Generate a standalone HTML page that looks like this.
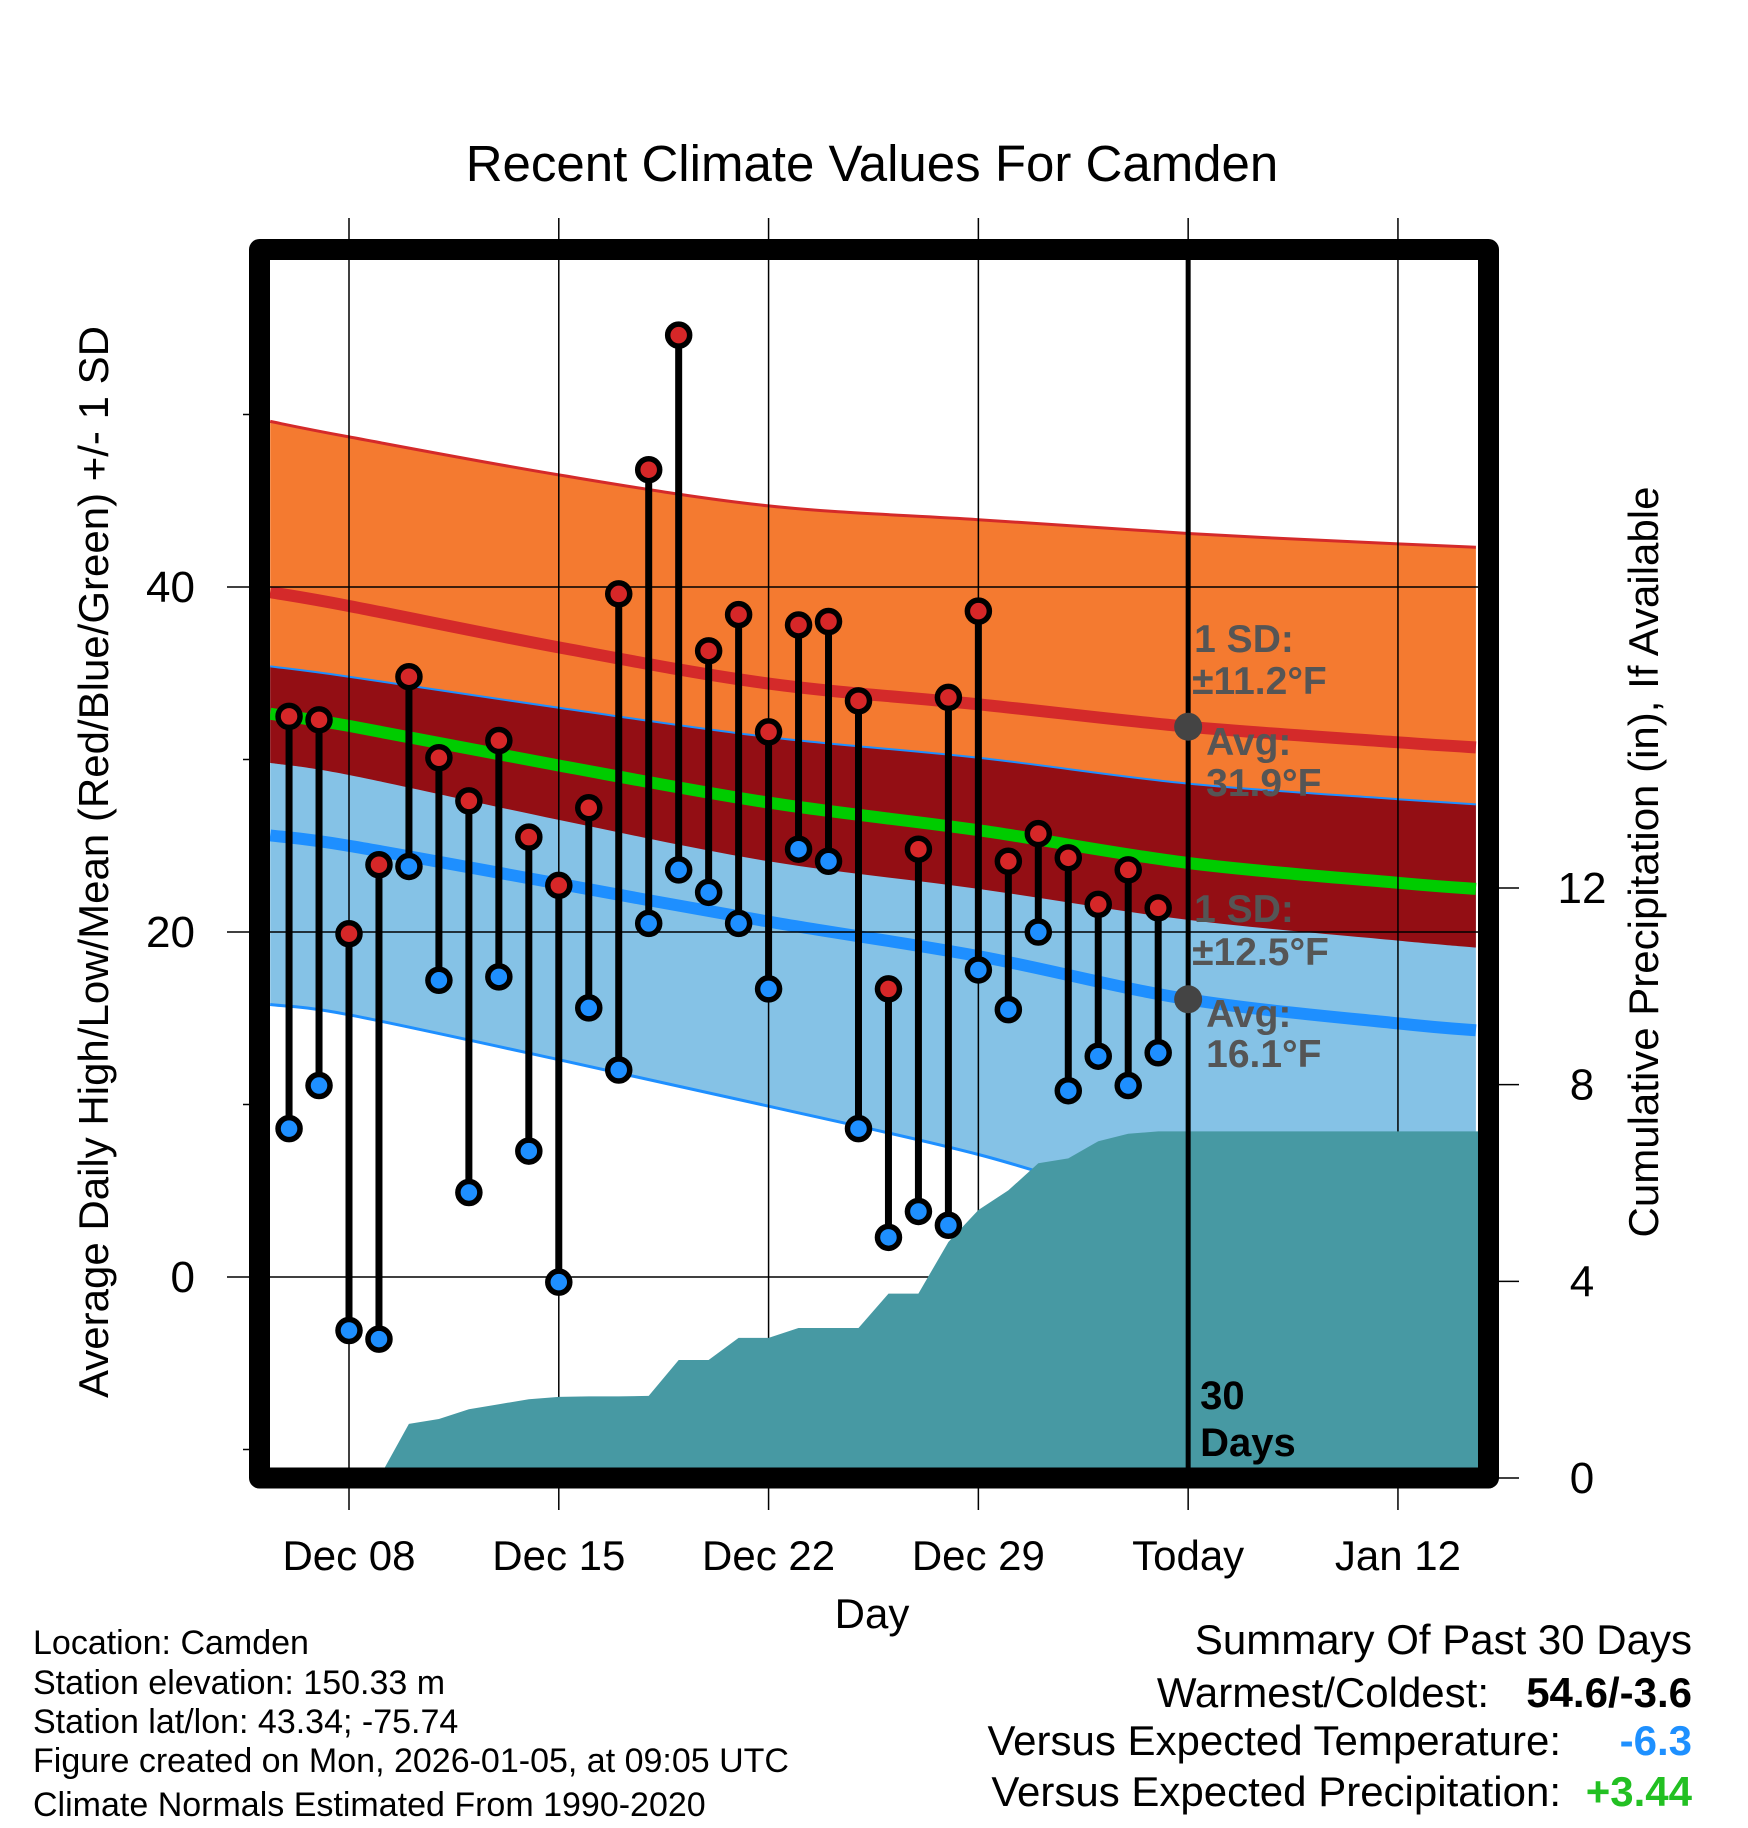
<!DOCTYPE html>
<html><head><meta charset="utf-8"><style>
html,body{margin:0;padding:0;background:#fff}
svg{display:block}
text{font-family:"Liberation Sans",Arial,sans-serif}
</style></head><body>
<svg id="chart" xmlns="http://www.w3.org/2000/svg" width="1748" height="1828" viewBox="0 0 1748 1828">
<defs><clipPath id="plotclip"><rect x="270" y="260" width="1208" height="1208"/></clipPath></defs>
<g id="bands" clip-path="url(#plotclip)"></g>
<g id="grid"></g>
<g id="precip" clip-path="url(#plotclip)"></g>
<g id="marks"></g>
<g id="annot"></g>
<rect x="259.5" y="249.5" width="1229" height="1228.5" fill="none" stroke="#000" stroke-width="21" stroke-linejoin="round"/>
<text x="872" y="181" font-size="51" text-anchor="middle">Recent Climate Values For Camden</text>
<text x="872" y="1628" font-size="42" text-anchor="middle">Day</text>
<text transform="translate(108,862) rotate(-90)" font-size="42" text-anchor="middle">Average Daily High/Low/Mean (Red/Blue/Green) +/- 1 SD</text>
<text transform="translate(1658,862) rotate(-90)" font-size="42" text-anchor="middle">Cumulative Precipitation (in), If Available</text>
<g font-size="34">
<text x="33" y="1654">Location: Camden</text>
<text x="33" y="1694">Station elevation: 150.33 m</text>
<text x="33" y="1733">Station lat/lon: 43.34; -75.74</text>
<text x="33" y="1772">Figure created on Mon, 2026-01-05, at 09:05 UTC</text>
<text x="33" y="1816">Climate Normals Estimated From 1990-2020</text>
</g>
<g font-size="42">
<text x="1692" y="1654" text-anchor="end">Summary Of Past 30 Days</text>
<text x="1489" y="1707" text-anchor="end">Warmest/Coldest:</text>
<text x="1692" y="1707" text-anchor="end" font-weight="bold">54.6/-3.6</text>
<text x="1561" y="1755" text-anchor="end">Versus Expected Temperature:</text>
<text x="1692" y="1755" text-anchor="end" font-weight="bold" fill="#1e90ff">-6.3</text>
<text x="1561" y="1806" text-anchor="end">Versus Expected Precipitation:</text>
<text x="1692" y="1806" text-anchor="end" font-weight="bold" fill="#22c022">+3.44</text>
</g>
</svg>
<script>
// ---- data ----
const dayOffsets = [-2,-1,0,1,2,3,4,5,6,7,8,9,10,11,12,13,14,15,16,17,18,19,20,21,22,23,24,25,26,27]; // days from Dec 08
const highs = [32.5,32.3,19.9,23.9,34.8,30.1,27.6,31.1,25.5,22.7,27.2,39.6,46.8,54.6,36.3,38.4,31.6,37.8,38.0,33.4,16.7,24.8,33.6,38.6,24.1,25.7,24.3,21.6,23.6,21.4];
const lows = [8.6,11.1,-3.1,-3.6,23.8,17.2,4.9,17.4,7.3,-0.3,15.6,12.0,20.5,23.6,22.3,20.5,16.7,24.8,24.1,8.6,2.3,3.8,3.0,17.8,15.5,20.0,10.8,12.8,11.1,13.0];
const precipCum = [0,0,0,0,1.1,1.2,1.4,1.5,1.6,1.65,1.66,1.66,1.67,2.4,2.4,2.85,2.85,3.05,3.05,3.05,3.75,3.75,4.8,5.45,5.85,6.4,6.5,6.85,7.0,7.05];
const normalDays = [-2.63,0,7,14,21,28,35,37.6];
const highAvg = [39.7,38.9,36.5,34.4,33.2,31.9,31.0,30.7];
const highSD = [9.9,9.8,10.0,10.3,10.7,11.2,11.5,11.6];
const lowAvg = [25.6,25.0,22.8,20.6,18.6,16.1,14.7,14.3];
const lowSD = [9.8,9.8,10.2,10.7,11.5,12.5,13.0,13.1];
const xTickDays = [0,7,14,21,28,35];
const xTickLabels = ["Dec 08","Dec 15","Dec 22","Dec 29","Today","Jan 12"];
const yTicks = [0,20,40];
const yMinorTicks = [-10,10,30,50];
const precipTicks = [0,4,8,12];
const todayDay = 28;

// ---- scales ----
const X = d => 349 + d*29.97;
const Y = v => 1277 - v*17.25;
const P = v => 1478 - v*49.17;
const NS = "http://www.w3.org/2000/svg";
function mk(tag, parent, attrs){const e=document.createElementNS(NS,tag);for(const k in attrs)e.setAttribute(k,attrs[k]);parent.appendChild(e);return e;}
const bands=document.getElementById('bands'), grid=document.getElementById('grid'), precip=document.getElementById('precip'), marks=document.getElementById('marks'), annot=document.getElementById('annot');

// smooth curve through knots (Catmull-Rom)
function series(fn){return normalDays.map((d,i)=>[X(d),Y(fn(i))]);}
function smooth(p){
  let s="";
  for(let i=0;i<p.length-1;i++){
    const p0=p[Math.max(0,i-1)],p1=p[i],p2=p[i+1],p3=p[Math.min(p.length-1,i+2)];
    const c1=[p1[0]+(p2[0]-p0[0])/6,p1[1]+(p2[1]-p0[1])/6];
    const c2=[p2[0]-(p3[0]-p1[0])/6,p2[1]-(p3[1]-p1[1])/6];
    s+="C"+c1[0].toFixed(1)+","+c1[1].toFixed(1)+" "+c2[0].toFixed(1)+","+c2[1].toFixed(1)+" "+p2[0].toFixed(1)+","+p2[1].toFixed(1);
  }
  return s;
}
function bandPath(top,bot){const t=series(top),b=series(bot).reverse();return "M"+t[0][0]+","+t[0][1]+smooth(t)+"L"+b[0][0]+","+b[0][1]+smooth(b)+"Z";}
function linePath(fn){const t=series(fn);return "M"+t[0][0]+","+t[0][1]+smooth(t);}

let e;
e=mk('path',bands,{d:bandPath(i=>highAvg[i]+highSD[i],i=>highAvg[i]-highSD[i]),fill:'#f47a30'});


e=mk('path',bands,{d:bandPath(i=>lowAvg[i]+lowSD[i],i=>lowAvg[i]-lowSD[i]),fill:'#85c2e6'});


e=mk('path',bands,{d:bandPath(i=>lowAvg[i]+lowSD[i],i=>highAvg[i]-highSD[i]),fill:'#930e14'});


e=mk('path',bands,{d:linePath(i=>highAvg[i]+highSD[i]),stroke:'#d42a2a','stroke-width':3,fill:'none'});


e=mk('path',bands,{d:linePath(i=>lowAvg[i]+lowSD[i]),stroke:'#1e8fff','stroke-width':2,fill:'none'});


e=mk('path',bands,{d:linePath(i=>lowAvg[i]-lowSD[i]),stroke:'#1e8fff','stroke-width':3,fill:'none'});


e=mk('path',bands,{d:linePath(i=>highAvg[i]),stroke:'#d42a2a','stroke-width':12,fill:'none'});


e=mk('path',bands,{d:linePath(i=>lowAvg[i]),stroke:'#1e8fff','stroke-width':12,fill:'none'});


e=mk('path',bands,{d:linePath(i=>(highAvg[i]+lowAvg[i])/2),stroke:'#00cc00','stroke-width':12,fill:'none'});



// grid + ticks
xTickDays.forEach((d,i)=>{
  e=mk('line',grid,{x1:X(d),x2:X(d),y1:218,y2:1510,stroke:'#000','stroke-width':1.5});
  
  
  e=mk('text',grid,{x:X(d),y:1570,'font-size':42,'text-anchor':'middle'});
  e.textContent=xTickLabels[i];
  
  
});
yTicks.forEach(v=>{
  e=mk('line',grid,{x1:227,x2:1478,y1:Y(v),y2:Y(v),stroke:'#000','stroke-width':1.5});
  
  
  e=mk('text',grid,{x:195,y:Y(v)+15,'font-size':44,'text-anchor':'end'});
  e.textContent=String(v);
  
  
});
yMinorTicks.forEach(v=>{
  e=mk('line',grid,{x1:243,x2:260,y1:Y(v),y2:Y(v),stroke:'#000','stroke-width':1.5});
  
  
});
precipTicks.forEach(v=>{
  e=mk('line',grid,{x1:1488,x2:1519,y1:P(v),y2:P(v),stroke:'#000','stroke-width':1.5});
  
  
  e=mk('text',grid,{x:1582,y:P(v)+15,'font-size':44,'text-anchor':'middle'});
  e.textContent=String(v);
  
  
});

// precipitation area
let pts=dayOffsets.map((d,i)=>[X(d),P(precipCum[i])]);
pts.push([1490,P(precipCum[precipCum.length-1])]);
let pd="M"+X(dayOffsets[0])+","+P(0)+"L"+pts.map(p=>p[0].toFixed(1)+","+p[1].toFixed(1)).join("L")+"L1490,"+P(0)+"Z";
e=mk('path',precip,{d:pd,fill:'#4799a3'});



// today line
e=mk('line',marks,{x1:X(todayDay),x2:X(todayDay),y1:260,y2:1468,stroke:'#000','stroke-width':5});



// stems and markers
dayOffsets.forEach((d,i)=>{
  e=mk('line',marks,{x1:X(d),x2:X(d),y1:Y(highs[i]),y2:Y(lows[i]),stroke:'#000','stroke-width':7});
  
  
});
dayOffsets.forEach((d,i)=>{
  e=mk('circle',marks,{cx:X(d),cy:Y(highs[i]),r:11,fill:'#d62728',stroke:'#000','stroke-width':5.5});
  
  
  e=mk('circle',marks,{cx:X(d),cy:Y(lows[i]),r:11,fill:'#1e8fff',stroke:'#000','stroke-width':5.5});
  
  
});

// annotations
const tX=X(todayDay);
[[31.9],[16.1]].forEach(a=>{
  e=mk('circle',annot,{cx:tX,cy:Y(a[0]),r:14,fill:'#444'});
  
  
});
const labels=[["1 SD:",tX+6,652],["±11.2°F",tX+4,694],["Avg:",tX+18,755],["31.9°F",tX+18,796],["1 SD:",tX+6,922],["±12.5°F",tX+4,965],["Avg:",tX+18,1027],["16.1°F",tX+18,1067]];
labels.forEach(l=>{
  e=mk('text',annot,{x:l[1],y:l[2],'font-size':39,'font-weight':'bold',fill:'#555'});
  e.textContent=l[0];
  
  
});
[["30",1409],["Days",1456]].forEach(l=>{
  e=mk('text',annot,{x:tX+12,y:l[1],'font-size':40,'font-weight':'bold',fill:'#000'});
  e.textContent=l[0];
  
  
});
</script>
</body></html>
